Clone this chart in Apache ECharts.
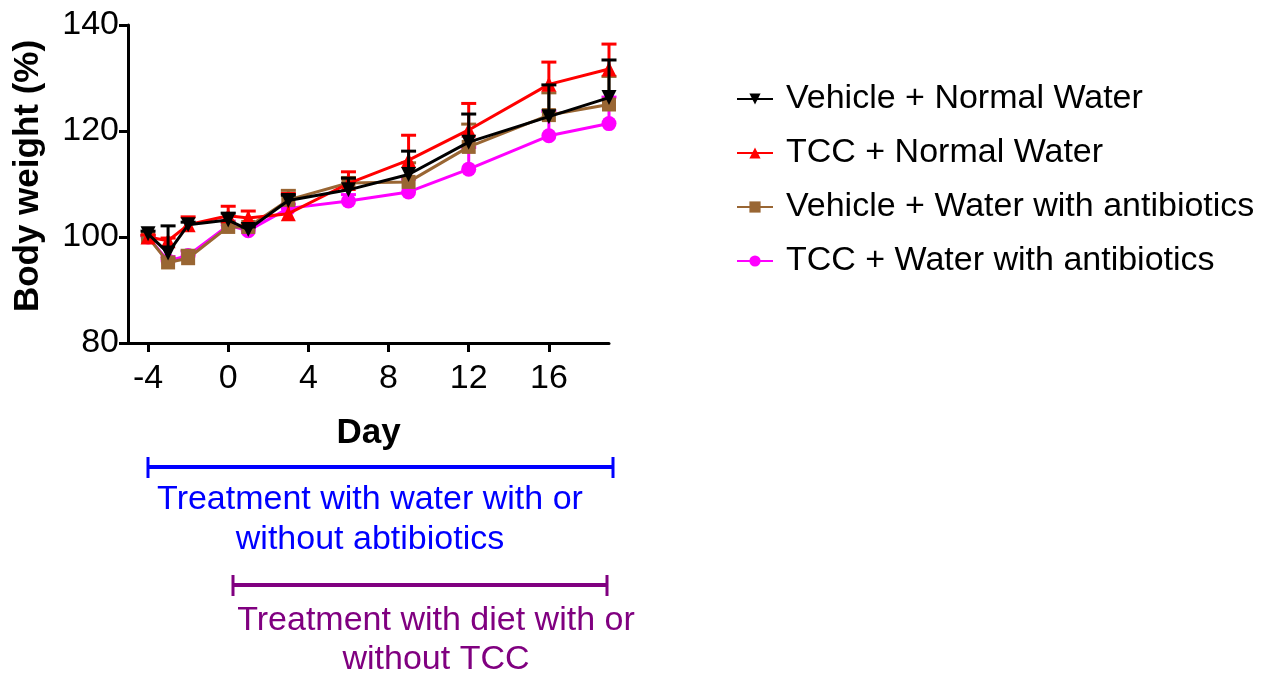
<!DOCTYPE html>
<html>
<head>
<meta charset="utf-8">
<title>Body weight</title>
<script src="https://cdn.jsdelivr.net/npm/echarts@6/dist/echarts.min.js"></script>
<style>
  html, body { margin: 0; padding: 0; background: #ffffff; }
  #chart { width: 1275px; height: 677px; }
</style>
</head>
<body>
<div id="chart"></div>
<script>
// Study days (day 0 = start of diet)
const days = [-4, -3, -2, 0, 1, 3, 6, 9, 12, 16, 19];
const xTicks = [-4, 0, 4, 8, 12, 16];

// Group names
const groupNames = [
  'Vehicle + Normal Water',
  'TCC + Normal Water',
  'Vehicle + Water with antibiotics',
  'TCC + Water with antibiotics'
];

// Mean body weight (% of initial) per group
const vehNormal = [100.6, 97.0, 102.3, 103.2, 101.4, 106.9, 108.9, 111.8, 117.9, 122.7, 126.3];
const tccNormal = [100.0, 99.3, 102.3, 104.0, 103.6, 104.4, 110.1, 114.5, 120.2, 128.8, 131.7];
const vehAbx    = [100.0, 95.2, 96.0, 101.9, 101.9, 107.0, 110.2, 110.4, 117.0, 123.0, 125.0];
const tccAbx    = [100.0, 95.5, 96.5, 102.2, 101.2, 105.4, 106.8, 108.5, 112.8, 119.1, 121.4];

// Upper error (SEM) per group
const vehNormalErr = [0.5, 5.1, 0.5, 1.3, 0.5, 1.0, 2.2, 4.4, 5.3, 6.0, 7.1];
const tccNormalErr = [0.4, 0.5, 1.5, 1.8, 1.3, 3.8, 2.2, 4.7, 5.0, 4.2, 4.7];
const vehAbxErr    = [0.3, 0.8, 1.5, 0.8, 0.5, 1.8, 1.0, 3.6, 4.3, 4.2, 5.3];
const tccAbxErr    = [0.3, 0.8, 0.8, 0.8, 0.5, 0.8, 1.2, 2.4, 4.1, 4.6, 5.0];

const FONT = '"Liberation Sans", Arial, Helvetica, sans-serif';

function lineSeries(name, values, color, symbol, rotate, size, z) {
  return {
    type: 'line',
    name: name,
    data: days.map((d, i) => [d, values[i]]),
    symbol: symbol,
    symbolRotate: rotate,
    symbolSize: size,
    showSymbol: true,
    lineStyle: { color: color, width: 3 },
    itemStyle: { color: color, borderWidth: 0 },
    z: z,
    animation: false,
    emphasis: { disabled: true }
  };
}

// Upward-only error bar with a cap
function errorSeries(name, values, errs, color, z) {
  return {
    type: 'custom',
    name: name + ' SEM',
    data: days.map((d, i) => [d, values[i], values[i] + errs[i]]),
    z: z,
    animation: false,
    silent: true,
    renderItem: function (params, api) {
      const x = api.value(0);
      const p0 = api.coord([x, api.value(1)]);
      const p1 = api.coord([x, api.value(2)]);
      const hw = 7.5;
      return {
        type: 'group',
        children: [
          { type: 'line', shape: { x1: p0[0], y1: p0[1], x2: p1[0], y2: p1[1] },
            style: { stroke: color, lineWidth: 3 } },
          { type: 'line', shape: { x1: p1[0] - hw, y1: p1[1], x2: p1[0] + hw, y2: p1[1] },
            style: { stroke: color, lineWidth: 3 } }
        ]
      };
    }
  };
}

const colors = ['#000000', '#ff0000', '#996633', '#ff00ff'];

const chart = echarts.init(document.getElementById('chart'), null, { renderer: 'canvas' });

chart.setOption({
  backgroundColor: '#ffffff',
  animation: false,
  textStyle: { fontFamily: FONT },
  grid: { left: 128, right: 666, top: 25, bottom: 334, containLabel: false },
  legend: {
    data: groupNames,
    orient: 'vertical',
    left: 731,
    top: 76,
    itemWidth: 36,
    itemHeight: 14,
    itemGap: 18,
    selectedMode: false,
    textStyle: { fontFamily: FONT, fontSize: 34, color: '#000', lineHeight: 36, padding: [0, 0, 0, 8] }
  },
  xAxis: {
    type: 'value',
    min: -5,
    max: 19,
    name: 'Day',
    nameLocation: 'middle',
    nameGap: 73,
    nameTextStyle: { fontFamily: FONT, fontSize: 35, fontWeight: 'bold', color: '#000' },
    axisLine: { show: true, onZero: false, lineStyle: { color: '#000', width: 3 } },
    axisTick: { show: true, length: 9, lineStyle: { color: '#000', width: 3 }, customValues: xTicks },
    axisLabel: { fontFamily: FONT, fontSize: 34, color: '#000', margin: 19, customValues: xTicks },
    splitLine: { show: false }
  },
  yAxis: {
    type: 'value',
    min: 80,
    max: 140,
    interval: 20,
    name: 'Body weight (%)',
    nameLocation: 'middle',
    nameRotate: 90,
    nameGap: 82,
    nameTextStyle: { fontFamily: FONT, fontSize: 35, fontWeight: 'bold', color: '#000', padding: [0, 0, 0, 16] },
    axisLine: { show: true, onZero: false, lineStyle: { color: '#000', width: 3 } },
    axisTick: { show: true, length: 9, lineStyle: { color: '#000', width: 3 } },
    axisLabel: { fontFamily: FONT, fontSize: 34, color: '#000', margin: 9 },
    splitLine: { show: false }
  },
  series: [
    errorSeries(groupNames[3], tccAbx, tccAbxErr, colors[3], 2),
    lineSeries(groupNames[3], tccAbx, colors[3], 'circle', 0, 15, 3),
    errorSeries(groupNames[2], vehAbx, vehAbxErr, colors[2], 4),
    lineSeries(groupNames[2], vehAbx, colors[2], 'rect', 0, 14, 5),
    errorSeries(groupNames[1], tccNormal, tccNormalErr, colors[1], 6),
    lineSeries(groupNames[1], tccNormal, colors[1], 'triangle', 0, 15, 7),
    errorSeries(groupNames[0], vehNormal, vehNormalErr, colors[0], 8),
    lineSeries(groupNames[0], vehNormal, colors[0], 'triangle', 180, 15, 9)
  ],
  graphic: [
    // Antibiotic water period
    { type: 'line', shape: { x1: 148, y1: 467, x2: 613, y2: 467 }, style: { stroke: '#0000ff', lineWidth: 4 } },
    { type: 'line', shape: { x1: 148, y1: 457, x2: 148, y2: 478 }, style: { stroke: '#0000ff', lineWidth: 3 } },
    { type: 'line', shape: { x1: 613, y1: 457, x2: 613, y2: 478 }, style: { stroke: '#0000ff', lineWidth: 3 } },
    { type: 'text', x: 370, y: 480,
      style: { text: 'Treatment with water with or\nwithout abtibiotics', fill: '#0000ff',
               font: '34px ' + FONT, align: 'center', verticalAlign: 'top', lineHeight: 40 } },
    // Diet period
    { type: 'line', shape: { x1: 233, y1: 585, x2: 607, y2: 585 }, style: { stroke: '#800080', lineWidth: 4 } },
    { type: 'line', shape: { x1: 233, y1: 575, x2: 233, y2: 596 }, style: { stroke: '#800080', lineWidth: 3 } },
    { type: 'line', shape: { x1: 607, y1: 575, x2: 607, y2: 596 }, style: { stroke: '#800080', lineWidth: 3 } },
    { type: 'text', x: 436, y: 601,
      style: { text: 'Treatment with diet with or\nwithout TCC', fill: '#800080',
               font: '34px ' + FONT, align: 'center', verticalAlign: 'top', lineHeight: 39 } }
  ]
});
</script>
</body>
</html>
